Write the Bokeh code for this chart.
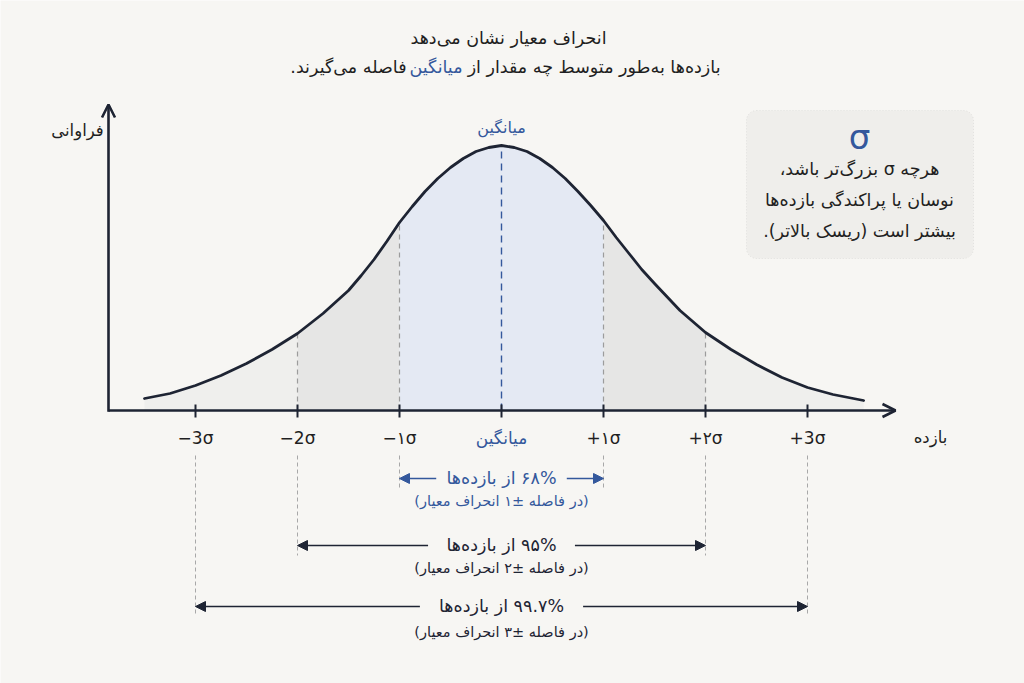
from bokeh.plotting import figure
from bokeh.models import Range1d, Arrow, NormalHead, OpenHead, BoxAnnotation
from bokeh.core.properties import value
from bokeh.embed import file_html
from bokeh.resources import INLINE

RLE, PDF, RLM = "\u202b", "\u202c", "\u200f"

# ---------------- data ----------------
sigma_ticks = [-3, -2, -1, 0, 1, 2, 3]
tick_labels = ["−3σ", "−2σ", "−۱σ", "میانگین", "+۱σ", "+۲σ", "+3σ"]

curve_x = [-3.50, -3.25, -3.00, -2.75, -2.50, -2.25, -2.00, -1.75,
           -1.50, -1.375, -1.25, -1.125, -1.00, -0.875, -0.75, -0.625,
           -0.50, -0.375, -0.25, -0.125, 0.00, 0.125, 0.25, 0.375,
           0.50, 0.625, 0.75, 0.875, 1.00, 1.125, 1.25, 1.375,
           1.50, 1.75, 2.00, 2.25, 2.50, 2.75, 3.00, 3.25, 3.55]
curve_y = [12, 17, 25, 35, 47, 61, 77, 97,
           120, 135, 151, 169, 188, 204, 219, 232,
           243, 252, 259, 263, 265, 263, 259, 252,
           243, 232, 219, 205, 190, 173, 157, 141,
           127, 100, 78, 61, 46, 33, 23, 16, 10]

band_k = [1, 2, 3]
band_main = ["۶۸% از بازده‌ها", "۹۵% از بازده‌ها", "۹۹.۷% از بازده‌ها"]
band_sub = ["(در فاصله ±۱ انحراف معیار)", "(در فاصله ±۲ انحراف معیار)", "(در فاصله ±۳ انحراف معیار)"]

title_1 = "انحراف معیار نشان می‌دهد"
title_2a = "بازده‌ها به‌طور متوسط چه مقدار از"
title_2b = "میانگین"
title_2c = "فاصله می‌گیرند." + RLM

x_label = "بازده"
y_label = "فراوانی"
mean_label = "میانگین"
box_symbol = "σ"
box_lines = [RLE + "هرچه σ بزرگ‌تر باشد،" + PDF,
             "نوسان یا پراکندگی بازده‌ها",
             "بیشتر است (ریسک بالاتر)." + RLM]

# ---------------- style ----------------
BG = "#f7f6f3"
DARK = "#1e2433"
TXT = "#1f1f22"
BLUE = "#34589c"
GRAY = "#9c9c9c"
FA = value("DejaVu Sans")
PX = 102.0      # pixels per sigma
X0 = 501.0      # pixel of the mean
AX = 410.0      # pixel row of the x axis


def X(px):
    return (px - X0) / PX


def Y(py):
    return AX - py


p = figure(width=1024, height=683, output_backend="svg", toolbar_location=None,
           x_range=Range1d(X(0), X(1024)), y_range=Range1d(Y(683), Y(0)),
           x_axis_type=None, y_axis_type=None, min_border=0,
           background_fill_color=BG, border_fill_color=BG, outline_line_color=None)
p.grid.visible = False

# ---------------- filled bands ----------------
def sub(lo, hi):
    xs = [x for x in curve_x if lo <= x <= hi]
    ys = [y for x, y in zip(curve_x, curve_y) if lo <= x <= hi]
    return xs, ys

for lo, hi, col in [(-9, -2, "#efefed"), (2, 9, "#efefed"),
                    (-2, -1, "#e6e6e5"), (1, 2, "#e6e6e5"),
                    (-1, 1, "#e4e9f3")]:
    xs, ys = sub(lo, hi)
    p.varea(x=xs, y1=[0] * len(xs), y2=ys, fill_color=col)

# dashed verticals from curve to axis
h_at = dict(zip(curve_x, curve_y))
for k in [-2, -1, 1, 2]:
    p.segment(x0=[k], y0=[0], x1=[k], y1=[h_at[float(k)]], line_color=GRAY,
              line_width=1.2, line_dash="5 4")
p.segment(x0=[0], y0=[0], x1=[0], y1=[h_at[0.0]], line_color=BLUE,
          line_width=1.4, line_dash="7 5")

# curve
p.line(curve_x, curve_y, line_color=DARK, line_width=2.8, line_join="round", line_cap="round")

# ---------------- axes ----------------
p.add_layout(Arrow(end=OpenHead(size=13, line_width=2.6, line_color=DARK), start=None,
                   x_start=X(108), y_start=0, x_end=X(895), y_end=0,
                   line_color=DARK, line_width=2.6))
p.add_layout(Arrow(end=OpenHead(size=13, line_width=2.6, line_color=DARK), start=None,
                   x_start=X(108), y_start=-1.3, x_end=X(108), y_end=Y(104),
                   line_color=DARK, line_width=2.6))
p.segment(x0=sigma_ticks, y0=[-7] * 7, x1=sigma_ticks, y1=[6] * 7,
          line_color=DARK, line_width=2)

tick_cols = [TXT if t != 0 else BLUE for t in sigma_ticks]
p.text(x=sigma_ticks, y=[Y(437)] * 7, text=tick_labels, text_color=tick_cols,
       text_align="center", text_baseline="middle", text_font_size="17px", text_font=FA)

p.text(x=[X(930)], y=[Y(437)], text=[x_label], text_color=TXT, text_align="center",
       text_baseline="middle", text_font_size="16.5px", text_font=FA)
p.text(x=[X(77)], y=[Y(130)], text=[y_label], text_color=TXT, text_align="center",
       text_baseline="middle", text_font_size="16.5px", text_font=FA)
p.text(x=[0], y=[Y(127)], text=[mean_label], text_color=BLUE, text_align="center",
       text_baseline="middle", text_font_size="16px", text_font=FA)

# ---------------- titles ----------------
p.text(x=[X(508)], y=[Y(37)], text=[title_1], text_color=TXT, text_align="center",
       text_baseline="middle", text_font_size="17.5px", text_font=FA)
p.text(x=[X(720), X(462), X(406)], y=[Y(66)] * 3, text=[title_2a, title_2b, title_2c],
       text_color=[TXT, BLUE, TXT], text_align="right",
       text_baseline="middle", text_font_size="17.5px", text_font=FA)

# ---------------- ranges below axis ----------------
row_y = [Y(478), Y(545), Y(606)]
sub_y = [Y(500), Y(567), Y(631)]
half_gap = [0.64, 0.72, 0.80]
row_col = [BLUE, DARK, DARK]
for k, ry, sy, hg, col, mt, st in zip(band_k, row_y, sub_y, half_gap, row_col, band_main, band_sub):
    p.segment(x0=[-k, k], y0=[Y(455)] * 2, x1=[-k, k], y1=[ry - 10] * 2,
              line_color="#a8a8a8", line_width=1, line_dash="4 3")
    for s in (-1, 1):
        p.add_layout(Arrow(end=NormalHead(size=10, fill_color=col, line_color=col), start=None,
                           x_start=s * hg, y_start=ry, x_end=s * k, y_end=ry,
                           line_color=col, line_width=1.7))
    p.text(x=[0], y=[ry + 1], text=[RLE + mt + PDF], text_color=col, text_align="center",
           text_baseline="middle", text_font_size="17.5px", text_font=FA)
    p.text(x=[0], y=[sy], text=[st], text_color=col, text_align="center",
           text_baseline="middle", text_font_size="14.5px", text_font=FA)

# ---------------- info box ----------------
p.add_layout(BoxAnnotation(left=X(746), right=X(973), top=Y(110), bottom=Y(258),
                           fill_color="#efeeeb", fill_alpha=1, line_color="#b9b9b9",
                           line_width=1, line_dash="1 2", border_radius=10, level="underlay"))
p.text(x=[X(859)], y=[Y(136)], text=[box_symbol], text_color=BLUE, text_align="center",
       text_baseline="middle", text_font_size="34px", text_font=FA)
p.text(x=[X(859)] * 3, y=[Y(168), Y(199), Y(230)], text=box_lines, text_color=TXT,
       text_align="center", text_baseline="middle", text_font_size="17.5px", text_font=FA)

open("out.html", "w").write(file_html(p, INLINE))
